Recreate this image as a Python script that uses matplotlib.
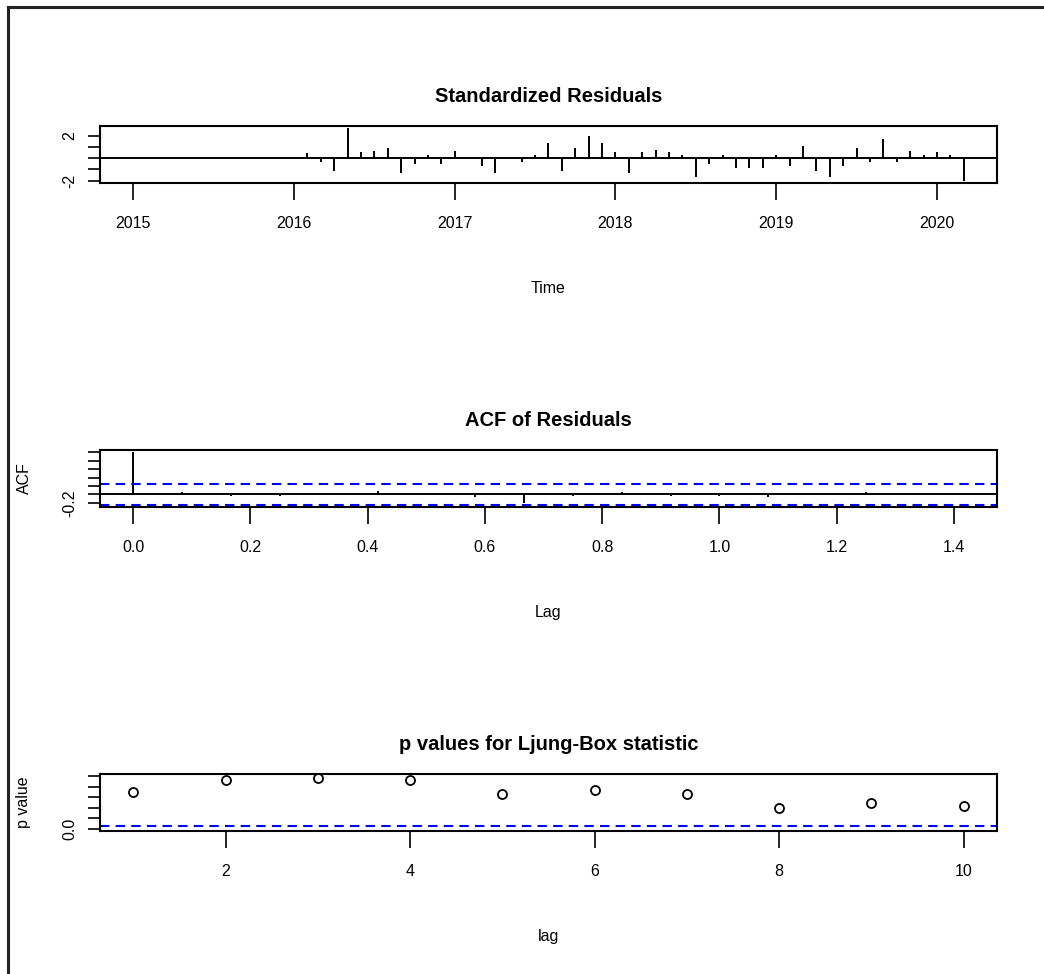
import numpy as np
import matplotlib
matplotlib.use("Agg")
import matplotlib.pyplot as plt
from matplotlib.lines import Line2D

plt.rcParams['font.family'] = ['Liberation Sans', 'DejaVu Sans']

# standardized residuals, monthly from Jan 2015 to Mar 2020
start_year = 2015
resid = [0.0] * 13 + [
    0.48, -0.30, -1.10, 2.68, 0.51, 0.68, 0.90, -1.32, -0.51, 0.30, -0.51,
    0.68, 0.04, -0.72, -1.32, 0.03, -0.30, 0.30, 1.35, -1.10, 0.93, 1.94, 1.35,
    0.54, -1.32, 0.54, 0.75, 0.54, 0.30, -1.71, -0.51, 0.30, -0.90, -0.90, -0.90,
    0.30, -0.72, 1.13, -1.10, -1.71, -0.65, 0.93, -0.30, 1.73, -0.30, 0.68, 0.30,
    0.54, 0.30, -2.02,
]
year_ticks = [2015, 2016, 2017, 2018, 2019, 2020]

# ACF of residuals, lags 0..17 (in years)
acf_vals = [1.0, 0.05, -0.04, -0.03, 0.04, 0.08, 0.03, -0.05, -0.21, -0.03,
            0.05, -0.04, -0.03, -0.05, 0.03, 0.06, -0.02, 0.04]
clim = 0.247
lag_ticks = [0.0, 0.2, 0.4, 0.6, 0.8, 1.0, 1.2, 1.4]

# Ljung-Box p values
lb_lags = [1, 2, 3, 4, 5, 6, 7, 8, 9, 10]
lb_pvals = [0.70, 0.92, 0.96, 0.92, 0.66, 0.74, 0.66, 0.40, 0.49, 0.44]

W, H = 1044, 974
fig = plt.figure(figsize=(W / 100, H / 100), dpi=100)

left, width, height = 100, 897, 57
tops = [126, 450, 774]


def make_ax(top):
    ax = fig.add_axes([left / W, 1 - (top + height) / H, width / W, height / H])
    for s in ax.spines.values():
        s.set_linewidth(1.5)
    ax.tick_params(axis='x', length=12, width=1.2, pad=12, labelsize=11.5)
    ax.tick_params(axis='y', length=8.5, width=1.2, pad=8, labelsize=11.5,
                   labelrotation=90)
    for lab in ax.get_yticklabels():
        lab.set_va('center')
    ax.set_title(ax.get_title(), fontsize=14, fontweight='bold', pad=17)
    return ax


def pad_lim(lo, hi, f=0.04):
    r = hi - lo
    return lo - f * r, hi + f * r


def finish(ax, title, xlabel, ylabel):
    ax.set_title(title, fontsize=14.5, fontweight='bold', pad=17)
    ax.set_xlabel(xlabel, fontsize=11.5)
    ax.xaxis.set_label_coords(0.5, -98 / height)
    ax.xaxis.label.set_va('top')
    if ylabel:
        ax.set_ylabel(ylabel, fontsize=11.5)
        ax.yaxis.set_label_coords((24 - left) / width, 0.5)
        ax.yaxis.label.set_va('center')
    for lab in ax.get_yticklabels():
        lab.set_va('center')


# --- standardized residuals
ax1 = make_ax(tops[0])
t = start_year + np.arange(len(resid)) / 12
ax1.vlines(t, 0, resid, color='black', lw=1.4)
ax1.axhline(0, color='black', lw=1.4)
ax1.set_xlim(*pad_lim(t.min(), t.max()))
ax1.set_ylim(*pad_lim(min(resid), max(resid)))
ax1.set_xticks(year_ticks)
ax1.set_yticks([-2, -1, 0, 1, 2])
ax1.set_yticklabels(['-2', '', '', '', '2'])
finish(ax1, 'Standardized Residuals', 'Time', None)

# --- ACF of residuals
ax2 = make_ax(tops[1])
lags = np.arange(len(acf_vals)) / 12
ax2.vlines(lags, 0, acf_vals, color='black', lw=1.4)
ax2.axhline(0, color='black', lw=1.4)
for c in (clim, -clim):
    ax2.axhline(c, color='blue', lw=1.5, ls=(0, (4.5, 3)))
ax2.set_xlim(*pad_lim(lags.min(), lags.max()))
ax2.set_ylim(*pad_lim(min(min(acf_vals), -clim), max(max(acf_vals), clim)))
ax2.set_xticks(lag_ticks)
ax2.set_xticklabels(['%.1f' % v for v in lag_ticks])
ax2.set_yticks([-0.2, 0.0, 0.2, 0.4, 0.6, 0.8, 1.0])
ax2.set_yticklabels(['-0.2', '', '', '', '', '', ''])
finish(ax2, 'ACF of Residuals', 'Lag', 'ACF')

# --- Ljung-Box p values
ax3 = make_ax(tops[2])
ax3.plot(lb_lags, lb_pvals, 'o', mfc='none', mec='black', ms=6.5, mew=1.3,
         clip_on=False)
ax3.axhline(0.05, color='blue', lw=1.5, ls=(0, (4.5, 3)))
ax3.set_xlim(*pad_lim(min(lb_lags), max(lb_lags)))
ax3.set_ylim(*pad_lim(0, 1))
ax3.set_xticks([2, 4, 6, 8, 10])
ax3.set_yticks([0.0, 0.2, 0.4, 0.6, 0.8, 1.0])
ax3.set_yticklabels(['0.0', '', '', '', '', ''])
finish(ax3, 'p values for Ljung-Box statistic', 'lag', 'p value')

# screenshot border (top and left edges)
fig.add_artist(Line2D([8 / W, 1], [1 - 7 / H, 1 - 7 / H], color='#222222', lw=2.2))
fig.add_artist(Line2D([8 / W, 8 / W], [0, 1 - 7 / H], color='#222222', lw=2.2))

fig.savefig('out.png', dpi=100, facecolor='white')
